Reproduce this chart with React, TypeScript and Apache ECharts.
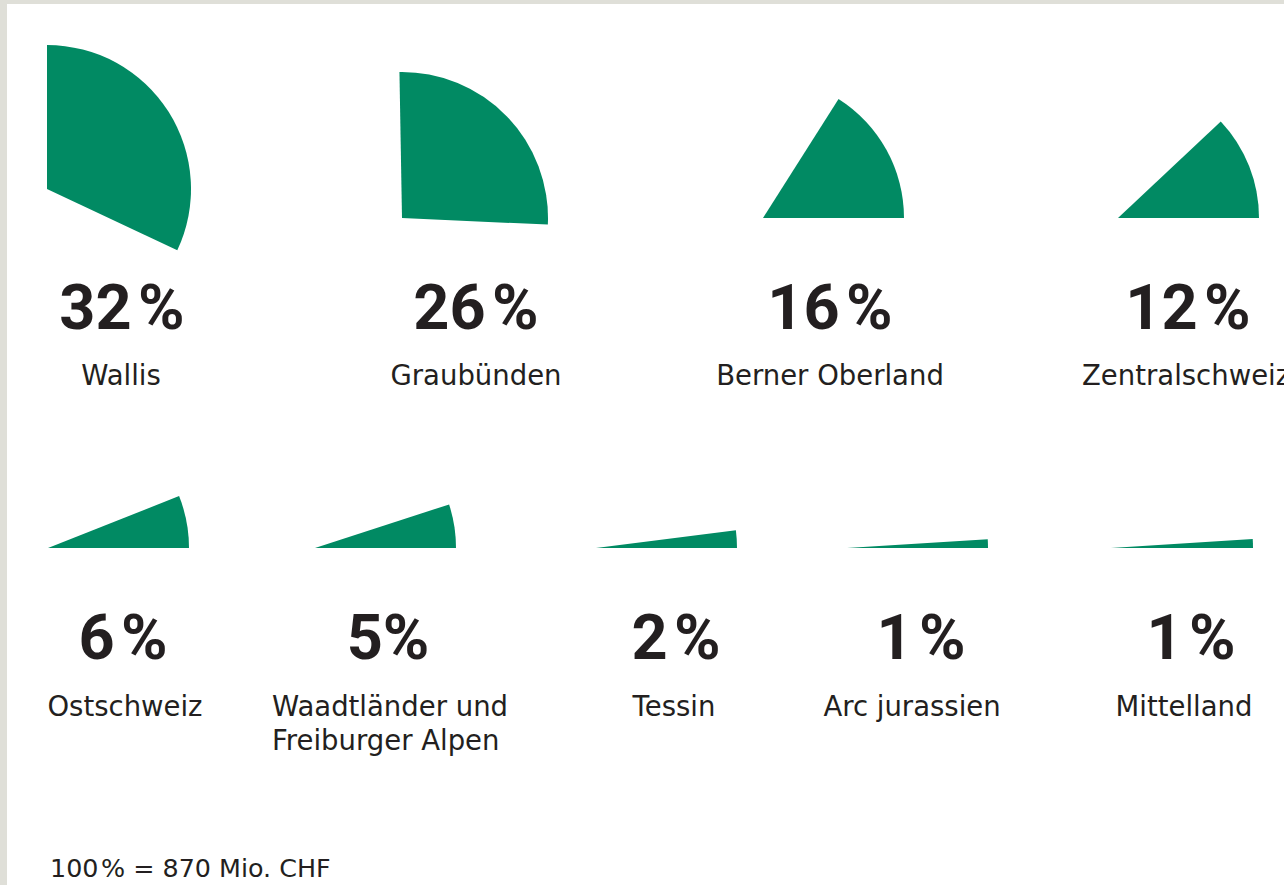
import React, { useEffect, useRef } from "react";
import * as echarts from "echarts";

// ---- data ----
const regions = [
  "Wallis",
  "Graubünden",
  "Berner Oberland",
  "Zentralschweiz",
  "Ostschweiz",
  "Waadtländer und\nFreiburger Alpen",
  "Tessin",
  "Arc jurassien",
  "Mittelland",
];
const shares = [32, 26, 16, 12, 6, 5, 2, 1, 1];
const shareLabels = ["32\u200A%", "26\u200A%", "16\u200A%", "12\u200A%", "6\u200A%", "5%", "2\u200A%", "1\u200A%", "1\u200A%"];
const totalNote = "100\u200A% = 870 Mio. CHF";

// ---- layout (positions only) ----
const pieCenters = [
  [47, 189], [402, 218], [763, 218], [1118, 218],
  [48, 548], [315, 548], [596, 548], [847, 548], [1111, 548],
];
const pieRadii = [144, 146, 141, 141, 141, 141, 141, 141, 142];
// null => sector ends at 3 o'clock; number => fixed start angle
const pieStart: (number | null)[] = [90, 91, null, null, null, null, null, null, null];
const pctPos = [
  [122, 307], [476, 307], [830, 307], [1188, 307],
  [123, 637], [388, 637], [676, 637], [921, 637], [1191, 637],
];
const labelPos = [
  [121, 375, "center"], [476, 375, "center"], [830, 375, "center"], [1082, 375, "left"],
  [125, 706, "center"], [272, 723, "left"], [674, 706, "center"], [912, 706, "center"], [1184, 706, "center"],
];

const GREEN = "#018a63";
const INK = "#231f20";

export default function App() {
  const ref = useRef<HTMLDivElement>(null);
  useEffect(() => {
    if (!ref.current) return;
    const chart = echarts.init(ref.current, undefined, { renderer: "svg" });

    const series = shares.map((v, i) => ({
      type: "pie",
      silent: true,
      center: pieCenters[i],
      radius: [0, pieRadii[i]],
      startAngle: pieStart[i] === null ? v * 3.6 : pieStart[i],
      clockwise: true,
      label: { show: false },
      labelLine: { show: false },
      emphasis: { disabled: true },
      itemStyle: { borderWidth: 0 },
      data: [
        { name: regions[i], value: v, itemStyle: { color: GREEN } },
        { name: "rest", value: 100 - v, itemStyle: { color: "rgba(0,0,0,0)" } },
      ],
    }));

    const texts: any[] = [];
    shares.forEach((_, i) => {
      texts.push({
        type: "text",
        silent: true,
        style: {
          text: shareLabels[i],
          x: pctPos[i][0],
          y: pctPos[i][1],
          fill: INK,
          font: "bold 63px Roboto",
          align: "center",
          textAlign: "center",
          verticalAlign: "middle",
          textVerticalAlign: "middle",
        },
      });
      const al = labelPos[i][2] as string;
      texts.push({
        type: "text",
        silent: true,
        style: {
          text: regions[i],
          x: labelPos[i][0],
          y: labelPos[i][1],
          fill: INK,
          font: "27.5px 'DejaVu Sans'",
          lineHeight: 34,
          align: al,
          textAlign: al,
          verticalAlign: "middle",
          textVerticalAlign: "middle",
        },
      });
    });

    chart.setOption({
      animation: false,
      backgroundColor: "#ffffff",
      series,
      graphic: [
        { type: "rect", silent: true, shape: { x: 0, y: 0, width: 1284, height: 4 }, style: { fill: "#dfdfd8" } },
        { type: "rect", silent: true, shape: { x: 0, y: 0, width: 7, height: 885 }, style: { fill: "#dfdfd8" } },
        ...texts,
        {
          type: "text",
          silent: true,
          style: {
            text: totalNote,
            x: 50,
            y: 868,
            fill: INK,
            font: "25.4px 'DejaVu Sans'",
            align: "left",
            textAlign: "left",
            verticalAlign: "middle",
            textVerticalAlign: "middle",
          },
        },
      ],
    });
    return () => chart.dispose();
  }, []);
  return (
    <div
      ref={ref}
      style={{ position: "fixed", left: 0, top: 0, width: 1284, height: 885, overflow: "hidden", background: "#fff" }}
    />
  );
}
